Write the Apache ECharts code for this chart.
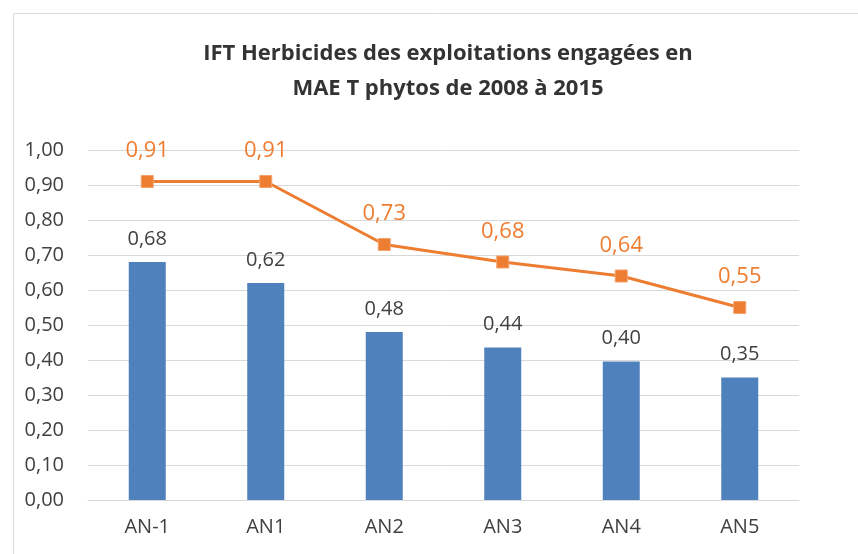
<!DOCTYPE html>
<html lang="fr">
<head>
    <meta charset="UTF-8">
    <title>IFT Herbicides</title>
    <script src="https://cdn.jsdelivr.net/npm/echarts@6/dist/echarts.min.js"></script>
    <style>
        html, body { margin: 0; padding: 0; background: #fff; }
    </style>
</head>
<body>
    <div id="main" style="width: 858px;height:554px;"></div>
    <script>
        var categories = ['AN-1', 'AN1', 'AN2', 'AN3', 'AN4', 'AN5'];
        var barValues = [0.68, 0.62, 0.48, 0.436, 0.396, 0.35];
        var lineValues = [0.91, 0.91, 0.73, 0.68, 0.64, 0.55];
        var yTicks = [0, 0.1, 0.2, 0.3, 0.4, 0.5, 0.6, 0.7, 0.8, 0.9, 1.0];

        var font = '"Open Sans", "Liberation Sans", sans-serif';
        function fr(v) { return v.toFixed(2).replace('.', ','); }

        var myChart = echarts.init(document.getElementById('main'));
        var option = {
            animation: false,
            graphic: [{
                type: 'rect',
                shape: { x: 13.5, y: 13.5, width: 900, height: 600 },
                style: { fill: 'none', stroke: '#d9d9d9', lineWidth: 1 }
            }],
            title: {
                text: 'IFT Herbicides des exploitations engagées en\nMAE T phytos de 2008 à 2015',
                left: 443,
                textAlign: 'center',
                top: 31,
                textStyle: { fontFamily: font, fontSize: 22, fontWeight: 'bold', color: '#333333', lineHeight: 35 }
            },
            grid: { left: 88, right: 59, top: 150, bottom: 54 },
            xAxis: {
                type: 'category',
                data: categories,
                axisLine: { lineStyle: { color: '#d9d9d9' } },
                axisTick: { show: false },
                axisLabel: { fontFamily: font, fontSize: 20, color: '#404040', margin: 17 }
            },
            yAxis: {
                type: 'value',
                min: yTicks[0],
                max: yTicks[yTicks.length - 1],
                interval: 0.1,
                axisLine: { show: false },
                axisTick: { show: false },
                splitLine: { lineStyle: { color: '#d9d9d9', width: 1 } },
                axisLabel: { fontFamily: font, fontSize: 20, color: '#404040', margin: 24, formatter: function (v) { return fr(v); } }
            },
            series: [
                {
                    type: 'bar',
                    data: barValues,
                    barWidth: 37,
                    itemStyle: { color: '#4f81bd' },
                    label: {
                        show: true, position: 'top', distance: 13,
                        fontFamily: font, fontSize: 20, color: '#404040',
                        formatter: function (p) { return fr(p.value); }
                    }
                },
                {
                    type: 'line',
                    data: lineValues,
                    symbol: 'rect',
                    symbolSize: 12,
                    lineStyle: { color: '#ed7d31', width: 3 },
                    itemStyle: { color: '#ed7d31', borderColor: '#f4a26c', borderWidth: 1 },
                    label: {
                        show: true, position: 'top', distance: 13,
                        fontFamily: font, fontSize: 22, color: '#ed7d31',
                        formatter: function (p) { return fr(p.value); }
                    }
                }
            ]
        };
        option && myChart.setOption(option);
    </script>
</body>
</html>
